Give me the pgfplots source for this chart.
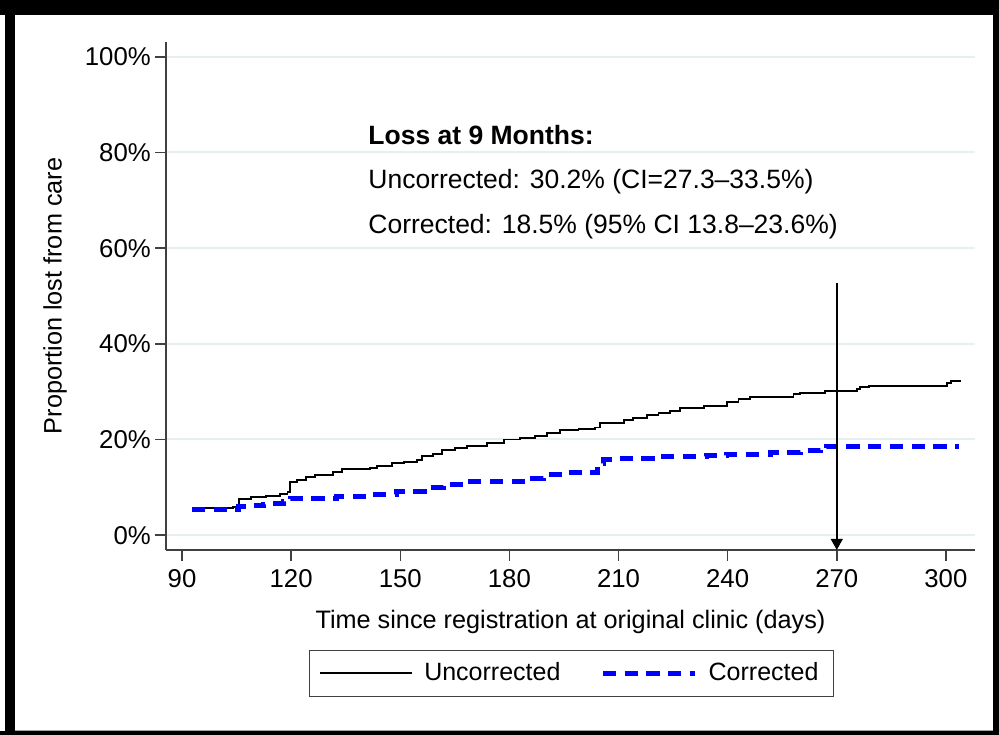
\documentclass[border=0pt]{standalone}
\usepackage{pgfplots}
\pgfplotsset{compat=1.18}
\usepackage{fontspec}
\setmainfont{Liberation Sans}
\usetikzlibrary{arrows.meta}
\definecolor{gridc}{HTML}{E8EFF1}
\definecolor{axc}{HTML}{404040}

\pgfplotstableread{
day pct
92.7 5.6
104.0 5.8
105.7 7.5
109.0 7.9
113.0 8.2
117.0 8.6
119.0 9.1
119.7 11.2
121.5 11.6
124.0 12.1
126.6 12.6
131.5 13.2
134.0 13.8
141.7 14.1
143.6 14.4
147.7 15.0
151.0 15.3
154.5 15.8
156.0 16.5
159.0 17.0
161.4 17.8
165.0 18.2
168.3 18.6
173.8 19.3
178.4 20.0
183.0 20.4
187.0 20.8
190.3 21.4
194.0 22.0
199.0 22.2
203.6 22.5
205.0 23.5
211.4 24.1
214.0 24.5
217.8 25.1
221.0 25.5
224.2 26.0
227.0 26.5
233.4 27.0
239.8 27.9
243.0 28.4
246.2 28.8
251.7 28.9
258.1 29.5
260.0 29.8
266.8 30.2
275.6 30.5
276.5 31.0
278.8 31.2
300.3 31.9
301.5 32.2
303.9 32.4
}\uncorrected

\pgfplotstableread{
day pct
92.7 5.4
105.4 5.9
109.5 6.1
112.3 6.5
114.2 6.6
117.8 7.1
119.7 7.7
132.5 8.1
142.5 8.4
149.0 9.1
157.3 10.0
161.8 10.5
167.4 11.3
185.7 11.9
189.3 12.6
195.8 13.0
204.3 15.0
205.8 15.9
209.5 16.0
221.4 16.4
234.2 16.6
239.8 16.9
251.7 17.3
260.0 17.6
265.5 17.9
267.3 18.6
303.5 18.6
}\corrected

\begin{document}
\begin{tikzpicture}
\path[use as bounding box] (0pt,0pt) rectangle (399.6pt,294pt);
\begin{axis}[
  at={(66.4pt,74pt)}, anchor=south west,
  scale only axis, width=323.6pt, height=203.2pt,
  xmin=85.6, xmax=308, ymin=-3.1, ymax=103.1,
  axis x line*=bottom, axis y line*=left,
  axis line style={draw=axc, line width=0.6pt},
  every tick/.style={axc, line width=0.6pt},
  tick align=outside, major tick length=4.4pt,
  xtick={90,120,...,300}, ytick={0,20,...,100},
  yticklabel={\pgfmathprintnumber{\tick}\%},
  yticklabel style={inner xsep=1.5pt},
  ymajorgrids, grid style={draw=gridc, line width=0.8pt},
  /pgf/number format/assume math mode=true,
  tick label style={font=\fontsize{10.3}{12}\selectfont},
  label style={font=\fontsize{10.1}{12}\selectfont},
  xlabel={Time since registration at original clinic (days)},
  ylabel={Proportion lost from care},
  xlabel style={at={(axis description cs:0.5,-0.1417)}, anchor=center},
  ylabel style={at={(axis description cs:-0.137,0.5)}, anchor=center},
  legend style={at={(axis description cs:0.501,-0.243)}, anchor=center,
    draw=axc, line width=0.4pt, font=\fontsize{10}{12}\selectfont,
    inner xsep=4pt, inner ysep=3pt,
    /tikz/every odd column/.append style={column sep=2.5pt},
    /tikz/every even column/.append style={column sep=14pt}},
  legend columns=2,
  legend image code/.code={\draw[#1] (0pt,0pt) -- (36.8pt,0pt);},
]
\addplot[const plot, black, line width=0.75pt] table[x=day,y=pct] {\uncorrected};
\addlegendentry{Uncorrected}
\addplot[const plot, color={rgb,255:red,0;green,0;blue,255}, line width=2pt, dash pattern=on 5.3pt off 3.4pt] table[x=day,y=pct] {\corrected};
\addlegendentry{Corrected}
\addplot[forget plot, black, line width=1pt, -{Triangle[length=4.4pt,width=4.6pt]}] coordinates {(270,52.7) (270,-3.1)};
\node[anchor=west, inner sep=0pt, font=\fontsize{10.6}{12}\selectfont\bfseries] at (axis cs:141.1,83.7) {Loss at 9 Months:};
\node[anchor=west, inner sep=0pt, font=\fontsize{10.6}{12}\selectfont] at (axis cs:141.1,73.8) {Uncorrected: 30.2\% (CI=27.3–33.5\%)};
\node[anchor=west, inner sep=0pt, font=\fontsize{10.6}{12}\selectfont] at (axis cs:141.1,64.6) {Corrected: 18.5\% (95\% CI 13.8–23.6\%)};
\end{axis}
\fill[black] (0pt,288pt) rectangle (399.6pt,294pt);
\fill[black] (2pt,0pt) rectangle (6pt,294pt);
\fill[black] (0pt,0pt) rectangle (399.6pt,1.4pt);
\fill[black] (397.2pt,0pt) rectangle (399.6pt,294pt);
\draw[black!35, line width=0.4pt] (6pt,1.8pt) -- (397.2pt,1.8pt);
\end{tikzpicture}
\end{document}
